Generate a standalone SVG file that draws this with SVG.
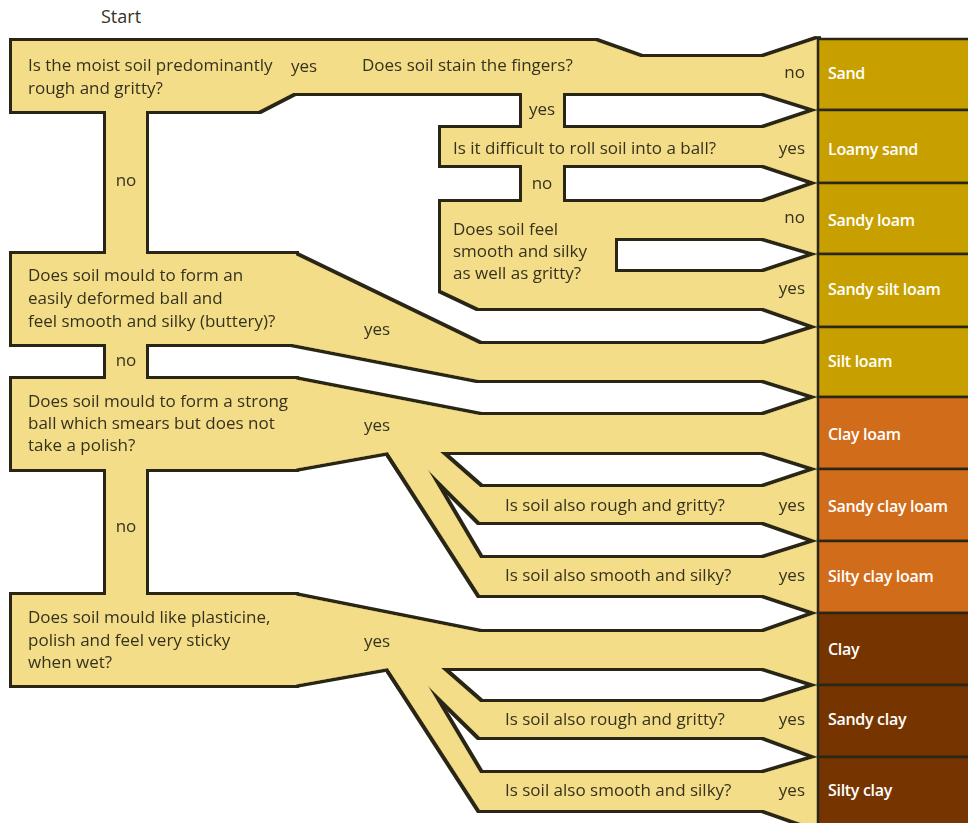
<svg xmlns="http://www.w3.org/2000/svg" width="968" height="823" viewBox="0 0 968 823">
<defs>
<style>
.y{fill:#f4dd88;stroke:none}
.q{font-family:"Open Sans","Noto Sans",sans-serif;font-size:17px;fill:#36321f}
.e{text-anchor:end}
.m{text-anchor:middle}
.r{font-family:"Open Sans","Noto Sans",sans-serif;font-size:16px;font-weight:600;fill:#ffffff;letter-spacing:-0.3px}
.res rect{stroke:#2b2717;stroke-width:2.5}
.c1{fill:#c7a000}
.c2{fill:#d16c1b}
.c3{fill:#763500}
</style>
<filter id="outline" filterUnits="userSpaceOnUse" x="0" y="0" width="968" height="823">
<feMorphology in="SourceAlpha" operator="dilate" radius="2.6" result="d"/>
<feFlood flood-color="#2b2717"/>
<feComposite in2="d" operator="in" result="o"/>
<feMerge><feMergeNode in="o"/><feMergeNode in="SourceGraphic"/></feMerge>
</filter>
</defs>
<rect width="968" height="823" fill="#ffffff"/>
<text class="q" x="101" y="23" style="font-size:18px">Start</text>
<g id="flow" filter="url(#outline)">
<g id="q1">
<polygon class="y" points="12,41 300,41 300,93 293,93 258,111 12,111"/>
<text class="q" x="28" y="71">Is the moist soil predominantly</text>
<text class="q" x="28" y="94">rough and gritty?</text>
</g>
<g id="q2">
<polygon class="y" points="355,41 595,41 640,57 764,57 764,93 355,93"/>
<text class="q" x="362" y="71">Does soil stain the fingers?</text>
</g>
<g id="q3">
<polygon class="y" points="441,128 764,128 764,165 441,165"/>
<text class="q" x="453" y="154">Is it difficult to roll soil into a ball?</text>
</g>
<g id="q4">
<polygon class="y" points="441,202 764,202 764,238 615,238 615,272 764,272 764,308 479,308 441,290"/>
<text class="q" x="453" y="235">Does soil feel</text>
<text class="q" x="453" y="257">smooth and silky</text>
<text class="q" x="453" y="279">as well as gritty?</text>
</g>
<g id="q5">
<polygon class="y" points="12,254 296,254 296,344 12,344"/>
<text class="q" x="28" y="281">Does soil mould to form an</text>
<text class="q" x="28" y="304">easily deformed ball and</text>
<text class="q" x="28" y="327">feel smooth and silky (buttery)?</text>
</g>
<g id="q6">
<polygon class="y" points="12,379 296,379 296,469 12,469"/>
<text class="q" x="28" y="407">Does soil mould to form a strong</text>
<text class="q" x="28" y="429">ball which smears but does not</text>
<text class="q" x="28" y="451">take a polish?</text>
</g>
<g id="q6a">
<polygon class="y" points="480,487 764,487 764,522 480,522"/>
<text class="q" x="505" y="511">Is soil also rough and gritty?</text>
</g>
<g id="q6b">
<polygon class="y" points="480,558 764,558 764,595 480,595"/>
<text class="q" x="505" y="581">Is soil also smooth and silky?</text>
</g>
<g id="q7">
<polygon class="y" points="12,595 296,595 296,685 12,685"/>
<text class="q" x="28" y="623">Does soil mould like plasticine,</text>
<text class="q" x="28" y="646">polish and feel very sticky</text>
<text class="q" x="28" y="668">when wet?</text>
</g>
<g id="q7a">
<polygon class="y" points="480,702 764,702 764,737 480,737"/>
<text class="q" x="505" y="725">Is soil also rough and gritty?</text>
</g>
<g id="q7b">
<polygon class="y" points="480,773 764,773 764,810 480,810"/>
<text class="q" x="505" y="796">Is soil also smooth and silky?</text>
</g>
<g id="connectors">
<polygon class="y" points="299,41 356,41 356,93 299,93"/>
<polygon class="y" points="760,57 764,57 818,39 818,110 764,93 760,93"/>
<polygon class="y" points="522,90 563,90 563,131 522,131"/>
<polygon class="y" points="760,128 764,128 818,110 818,183 764,165 760,165"/>
<polygon class="y" points="522,162 563,162 563,205 522,205"/>
<polygon class="y" points="760,202 764,202 818,183 818,254 764,238 760,238"/>
<polygon class="y" points="760,272 764,272 818,254 818,327 764,308 760,308"/>
<polygon class="y" points="106,108 146,108 146,257 106,257"/>
<polygon class="y" points="293,254 479,344 764,344 818,327 818,397 764,380 479,380 293,344"/>
<polygon class="y" points="106,341 146,341 146,382 106,382"/>
<polygon class="y" points="293,379 479,415 764,415 818,397 818,469 764,452 388,452 293,469"/>
<polygon class="y" points="388,452 440,452 480,487 484,487 484,522 480,522 428,470 400,470"/>
<polygon class="y" points="388,452 420,452 428,470 480,558 484,558 484,595 480,595"/>
<polygon class="y" points="760,487 764,487 818,469 818,541 764,522 760,522"/>
<polygon class="y" points="760,558 764,558 818,541 818,613 764,595 760,595"/>
<polygon class="y" points="106,466 146,466 146,598 106,598"/>
<polygon class="y" points="293,595 479,632 764,632 818,613 818,685 764,668 388,668 293,685"/>
<polygon class="y" points="388,668 441,668 480,702 484,702 484,737 480,737 428,686 400,686"/>
<polygon class="y" points="388,668 420,668 428,686 480,773 484,773 484,810 480,810"/>
<polygon class="y" points="760,702 764,702 818,685 818,757 764,737 760,737"/>
<polygon class="y" points="760,773 764,773 818,757 818,829 764,810 760,810"/>
<text class="q" x="291" y="72">yes</text>
<text class="q e" x="805" y="78">no</text>
<text class="q m" x="542" y="115">yes</text>
<text class="q e" x="805" y="154">yes</text>
<text class="q m" x="542" y="189">no</text>
<text class="q e" x="805" y="223">no</text>
<text class="q e" x="805" y="294">yes</text>
<text class="q m" x="126" y="186">no</text>
<text class="q" x="364" y="335">yes</text>
<text class="q m" x="126" y="366">no</text>
<text class="q" x="364" y="431">yes</text>
<text class="q e" x="805" y="511">yes</text>
<text class="q e" x="805" y="581">yes</text>
<text class="q m" x="126" y="532">no</text>
<text class="q" x="364" y="647">yes</text>
<text class="q e" x="805" y="725">yes</text>
<text class="q e" x="805" y="796">yes</text>
</g>
</g>
<g id="results" class="res">
<g id="r-sand"><rect class="c1" x="818" y="39" width="160" height="71"/><text class="r" x="828" y="79">Sand</text></g>
<g id="r-loamy-sand"><rect class="c1" x="818" y="110" width="160" height="73"/><text class="r" x="828" y="155">Loamy sand</text></g>
<g id="r-sandy-loam"><rect class="c1" x="818" y="183" width="160" height="71"/><text class="r" x="828" y="226">Sandy loam</text></g>
<g id="r-sandy-silt-loam"><rect class="c1" x="818" y="254" width="160" height="73"/><text class="r" x="828" y="295">Sandy silt loam</text></g>
<g id="r-silt-loam"><rect class="c1" x="818" y="327" width="160" height="70"/><text class="r" x="828" y="367">Silt loam</text></g>
<g id="r-clay-loam"><rect class="c2" x="818" y="397" width="160" height="72"/><text class="r" x="828" y="440">Clay loam</text></g>
<g id="r-sandy-clay-loam"><rect class="c2" x="818" y="469" width="160" height="72"/><text class="r" x="828" y="512">Sandy clay loam</text></g>
<g id="r-silty-clay-loam"><rect class="c2" x="818" y="541" width="160" height="72"/><text class="r" x="828" y="582">Silty clay loam</text></g>
<g id="r-clay"><rect class="c3" x="818" y="613" width="160" height="72"/><text class="r" x="828" y="655">Clay</text></g>
<g id="r-sandy-clay"><rect class="c3" x="818" y="685" width="160" height="72"/><text class="r" x="828" y="725">Sandy clay</text></g>
<g id="r-silty-clay"><rect class="c3" x="818" y="757" width="160" height="80"/><text class="r" x="828" y="796">Silty clay</text></g>
</g>
</svg>
